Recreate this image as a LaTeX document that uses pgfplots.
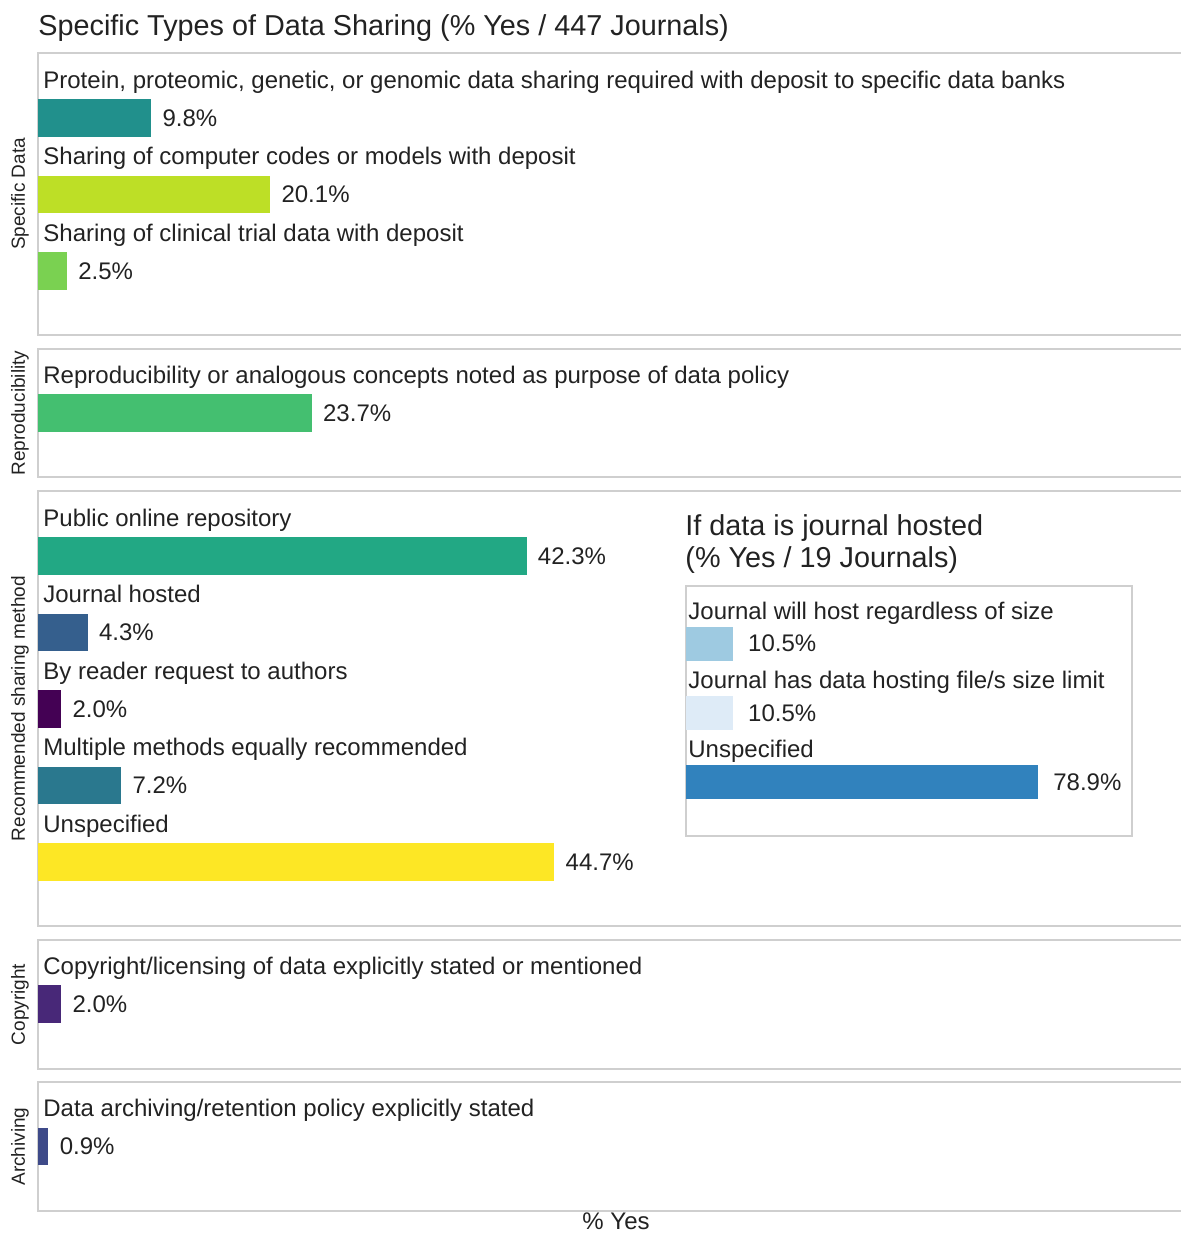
\documentclass[border=0pt]{standalone}
\usepackage{fontspec}
\setmainfont{Liberation Sans}
\usepackage{pgfplots}
\pgfplotsset{compat=1.18}

\definecolor{framegray}{HTML}{CFCFCF}
\definecolor{textcol}{HTML}{222222}
\definecolor{vA}{HTML}{21908C}
\definecolor{vB}{HTML}{BDDF26}
\definecolor{vC}{HTML}{7AD151}
\definecolor{vD}{HTML}{44BF70}
\definecolor{vE}{HTML}{22A884}
\definecolor{vF}{HTML}{355F8D}
\definecolor{vG}{HTML}{440154}
\definecolor{vH}{HTML}{2A788E}
\definecolor{vI}{HTML}{FDE725}
\definecolor{vJ}{HTML}{482878}
\definecolor{vK}{HTML}{3E4A89}
\definecolor{bA}{HTML}{9ECAE1}
\definecolor{bB}{HTML}{DEEBF7}
\definecolor{bC}{HTML}{3182BD}

\newcommand\lbl{\fontsize{12pt}{14pt}\selectfont}
\newcommand\ttl{\fontsize{14.4pt}{17pt}\selectfont}
\newcommand\strip{\fontsize{9.5pt}{11pt}\selectfont}

\tikzset{cat/.style={anchor=base west, font=\lbl, text=textcol, inner sep=0pt, xshift=2.5pt}}

\pgfplotsset{
  panel/.style={
    scale only axis, anchor=north west,
    xmin=0, xmax=100, y dir=reverse,
    xbar, clip=false,
    axis line style={draw=framegray, line width=1pt},
    xtick=\empty, ytick=\empty,
    point meta=x,
    /pgf/number format/assume math mode=true,
    nodes near coords={\pgfmathprintnumber[fixed,fixed zerofill,precision=1,assume math mode=true]{\pgfplotspointmeta}\%},
    every node near coord/.style={anchor=west, inner sep=0pt, xshift=5.5pt, font=\lbl, text=textcol},
    every axis y label/.style={at={(axis description cs:-0.01126,0.5)}, rotate=90, anchor=base, font=\strip, text=textcol},
  },
}

\begin{document}
\begin{tikzpicture}

\node[anchor=base west, font=\ttl, text=textcol, inner sep=0pt] at (19pt,-18pt) {Specific Types of Data Sharing (\% Yes / 447 Journals)};

% Panel 1: Specific Data
\begin{axis}[panel, at={(19pt,-26.5pt)}, width=577.5pt, height=141pt,
  ymin=53, ymax=335, ylabel={Specific Data}]
  \addplot[fill=vA, draw=none, bar shift=0pt, bar width=37.5] coordinates {(9.8,118)};
  \addplot[fill=vB, draw=none, bar shift=0pt, bar width=37.5] coordinates {(20.1,194.5)};
  \addplot[fill=vC, draw=none, bar shift=0pt, bar width=37.5] coordinates {(2.5,271)};
  \node[cat] at (axis cs:0,88) {Protein, proteomic, genetic, or genomic data sharing required with deposit to specific data banks};
  \node[cat] at (axis cs:0,164.5) {Sharing of computer codes or models with deposit};
  \node[cat] at (axis cs:0,241) {Sharing of clinical trial data with deposit};
\end{axis}

% Panel 2: Reproducibility
\begin{axis}[panel, at={(19pt,-174.5pt)}, width=577.5pt, height=64pt,
  ymin=349, ymax=477, ylabel={Reproducibility}]
  \addplot[fill=vD, draw=none, bar shift=0pt, bar width=37.5] coordinates {(23.7,413)};
  \node[cat] at (axis cs:0,383) {Reproducibility or analogous concepts noted as purpose of data policy};
\end{axis}

% Panel 3: Recommended sharing method
\begin{axis}[panel, at={(19pt,-245.5pt)}, width=577.5pt, height=217.5pt,
  ymin=491, ymax=926, ylabel={Recommended sharing method}]
  \addplot[fill=vE, draw=none, bar shift=0pt, bar width=37.5] coordinates {(42.3,556)};
  \addplot[fill=vF, draw=none, bar shift=0pt, bar width=37.5] coordinates {(4.3,632.5)};
  \addplot[fill=vG, draw=none, bar shift=0pt, bar width=37.5] coordinates {(2.0,709)};
  \addplot[fill=vH, draw=none, bar shift=0pt, bar width=37.5] coordinates {(7.2,785.5)};
  \addplot[fill=vI, draw=none, bar shift=0pt, bar width=37.5] coordinates {(44.7,862)};
  \node[cat] at (axis cs:0,526) {Public online repository};
  \node[cat] at (axis cs:0,602.5) {Journal hosted};
  \node[cat] at (axis cs:0,679) {By reader request to authors};
  \node[cat] at (axis cs:0,755.5) {Multiple methods equally recommended};
  \node[cat] at (axis cs:0,832) {Unspecified};
\end{axis}

% Inset: journal hosted
\node[anchor=base west, font=\ttl, text=textcol, inner sep=0pt] at (342.5pt,-267.5pt) {If data is journal hosted};
\node[anchor=base west, font=\ttl, text=textcol, inner sep=0pt] at (342.5pt,-283.5pt) {(\% Yes / 19 Journals)};
\begin{axis}[panel, at={(343pt,-293pt)}, width=223pt, height=125pt,
  ymin=586, ymax=836,
  axis line style={draw=framegray, line width=0.75pt},
  every node near coord/.style={anchor=west, inner sep=0pt, xshift=7.5pt, font=\lbl, text=textcol}]
  \addplot[fill=bA, draw=none, bar shift=0pt, bar width=34] coordinates {(10.5,643.5)};
  \addplot[fill=bB, draw=none, bar shift=0pt, bar width=34] coordinates {(10.5,713)};
  \addplot[fill=bC, draw=none, bar shift=0pt, bar width=34] coordinates {(78.9,782)};
  \node[cat, xshift=-1.5pt] at (axis cs:0,619) {Journal will host regardless of size};
  \node[cat, xshift=-1.5pt] at (axis cs:0,688.5) {Journal has data hosting file/s size limit};
  \node[cat, xshift=-1.5pt] at (axis cs:0,757.5) {Unspecified};
\end{axis}

% Panel 4: Copyright
\begin{axis}[panel, at={(19pt,-470pt)}, width=577.5pt, height=64.5pt,
  ymin=940, ymax=1069, ylabel={Copyright}]
  \addplot[fill=vJ, draw=none, bar shift=0pt, bar width=37.5] coordinates {(2.0,1004)};
  \node[cat] at (axis cs:0,974) {Copyright/licensing of data explicitly stated or mentioned};
\end{axis}

% Panel 5: Archiving
\begin{axis}[panel, at={(19pt,-541pt)}, width=577.5pt, height=64.5pt,
  ymin=1082, ymax=1211, ylabel={Archiving}]
  \addplot[fill=vK, draw=none, bar shift=0pt, bar width=37.5] coordinates {(0.9,1146.5)};
  \node[cat] at (axis cs:0,1116.5) {Data archiving/retention policy explicitly stated};
\end{axis}

\node[anchor=base, font=\lbl, text=textcol, inner sep=0pt] at (308pt,-614.5pt) {\% Yes};

\pgfresetboundingbox
\path[use as bounding box] (0,0) rectangle (590pt,-617.5pt);
\end{tikzpicture}
\end{document}
